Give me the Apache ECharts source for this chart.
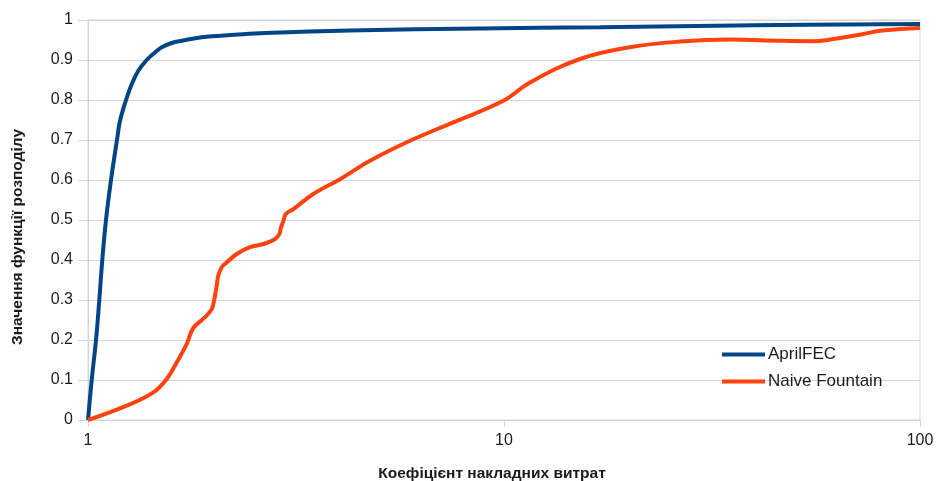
<!DOCTYPE html>
<html>
<head>
<meta charset="utf-8">
<script src="https://cdn.jsdelivr.net/npm/echarts@6/dist/echarts.min.js"></script>
<style>
  html, body { margin: 0; padding: 0; background: #fff; }
  #chart { width: 936px; height: 481px; }
</style>
</head>
<body>
<div id="chart"></div>
<script>
// Overhead ratio (log scale) vs. cumulative distribution value
const seriesNames = ['AprilFEC', 'Naive Fountain'];

const aprilX = [1, 1.0207, 1.0453, 1.0645, 1.0823, 1.1047, 1.1357, 1.174, 1.194, 1.2344, 1.274, 1.321, 1.3839, 1.449, 1.5038, 1.589, 1.68, 1.876, 2.256, 2.665, 4.264, 8.757, 17.01, 40, 100];
const aprilY = [0, 0.1, 0.2, 0.3, 0.4, 0.5, 0.6, 0.7, 0.748, 0.8, 0.84, 0.873, 0.9, 0.919, 0.932, 0.9425, 0.948, 0.957, 0.963, 0.9675, 0.974, 0.979, 0.982, 0.987, 0.99];

const naiveX = [1, 1.239, 1.436, 1.546, 1.634, 1.727, 1.791, 1.911, 1.983, 2.001, 2.02, 2.039, 2.057, 2.096, 2.155, 2.278, 2.451, 2.639, 2.815, 2.894, 2.903, 2.948, 2.99, 3.116, 3.48, 4.035, 4.763, 5.943, 7.552, 9.96, 11.55, 15.23, 20.09, 26.49, 34.94, 46.07, 55.4, 60.76, 73.07, 80.14, 100];
const naiveY = [0, 0.036, 0.069, 0.1025, 0.144, 0.19, 0.23, 0.257, 0.277, 0.29, 0.311, 0.336, 0.361, 0.382, 0.394, 0.415, 0.432, 0.44, 0.452, 0.468, 0.4775, 0.497, 0.515, 0.527, 0.565, 0.602, 0.648, 0.698, 0.744, 0.798, 0.844, 0.9025, 0.932, 0.946, 0.951, 0.948, 0.947, 0.951, 0.965, 0.973, 0.98];

const xAxisTitle = 'Коефіцієнт накладних витрат';
const yAxisTitle = 'Значення функції розподілу';

const pairs = (xs, ys) => xs.map((x, i) => [x, ys[i]]);

const gridColor = '#d4d4d4';
const textColor = '#1a1a1a';
const font = '"Liberation Sans", Arial, sans-serif';

const chart = echarts.init(document.getElementById('chart'), null, { renderer: 'canvas' });
chart.setOption({
  animation: false,
  backgroundColor: '#ffffff',
  grid: {
    left: 88, right: 16, top: 20, bottom: 61,
    show: true, borderColor: gridColor, borderWidth: 1,
    containLabel: false,
    outerBoundsMode: 'none'
  },
  legend: {
    orient: 'vertical',
    left: 722, top: 346, padding: 0,
    itemWidth: 43, itemHeight: 4, itemGap: 10,
    icon: 'rect',
    textStyle: { fontFamily: font, fontSize: 17, color: textColor, padding: [0, 0, 0, -2] },
    data: seriesNames
  },
  xAxis: {
    type: 'log', logBase: 10, min: 1, max: 100,
    name: xAxisTitle, nameLocation: 'middle', nameGap: 46,
    nameTextStyle: { fontFamily: font, fontSize: 15.5, fontWeight: 'bold', color: textColor, padding: [0, 24, 0, 0] },
    axisLine: { show: true, lineStyle: { color: gridColor, width: 1 } },
    axisTick: { show: true, length: 7, lineStyle: { color: gridColor } },
    axisLabel: { fontFamily: font, fontSize: 16, color: textColor, margin: 13 },
    splitLine: { show: false },
    minorTick: { show: false }
  },
  yAxis: {
    type: 'value', min: 0, max: 1, interval: 0.1,
    name: yAxisTitle, nameLocation: 'middle', nameGap: 62, nameRotate: 90,
    nameTextStyle: { fontFamily: font, fontSize: 15.5, fontWeight: 'bold', color: textColor, padding: [0, 34, 0, 0] },
    axisLine: { show: true, lineStyle: { color: gridColor, width: 1 } },
    axisTick: { show: true, length: 10, lineStyle: { color: gridColor } },
    axisLabel: { fontFamily: font, fontSize: 16, color: textColor, margin: 15 },
    splitLine: { show: true, lineStyle: { color: gridColor, width: 1 } }
  },
  series: [
    {
      name: seriesNames[0], type: 'line', data: pairs(aprilX, aprilY),
      smooth: 0.4, showSymbol: false, symbol: 'none',
      lineStyle: { color: '#004586', width: 4 }, itemStyle: { color: '#004586' }
    },
    {
      name: seriesNames[1], type: 'line', data: pairs(naiveX, naiveY),
      smooth: 0.4, showSymbol: false, symbol: 'none',
      lineStyle: { color: '#ff420e', width: 4 }, itemStyle: { color: '#ff420e' }
    }
  ]
});
</script>
</body>
</html>
